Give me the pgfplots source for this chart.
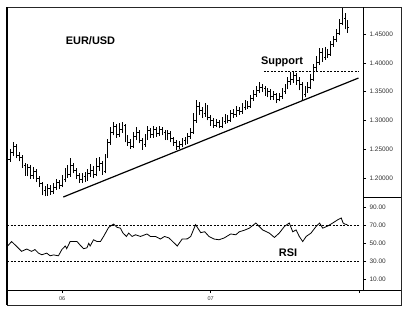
\documentclass[border=0pt]{standalone}
\usepackage{fontspec}
\setmainfont{Liberation Sans}
\usepackage{pgfplots}
\usepackage{pgfplotstable}
\pgfplotsset{compat=1.18}

\pgfplotstableread{
w o h l c
-19 1.225 1.240 1.219 1.232
-18 1.232 1.251 1.228 1.245
-17 1.245 1.262 1.238 1.255
-16 1.255 1.259 1.234 1.240
-15 1.240 1.246 1.229 1.236
-14 1.236 1.240 1.217 1.222
-13 1.222 1.226 1.204 1.210
-12 1.210 1.224 1.203 1.218
-11 1.218 1.222 1.198 1.205
-10 1.205 1.219 1.199 1.212
-9 1.212 1.216 1.193 1.200
-8 1.200 1.204 1.184 1.190
-7 1.190 1.193 1.170 1.178
-6 1.178 1.186 1.168 1.174
-5 1.174 1.189 1.169 1.182
-4 1.182 1.188 1.171 1.176
-3 1.176 1.192 1.173 1.184
-2 1.184 1.198 1.180 1.192
-1 1.192 1.196 1.181 1.188
0 1.188 1.205 1.184 1.198
1 1.198 1.218 1.193 1.212
2 1.212 1.222 1.200 1.206
3 1.206 1.235 1.202 1.222
4 1.222 1.226 1.208 1.214
5 1.214 1.218 1.198 1.204
6 1.204 1.208 1.191 1.197
7 1.197 1.208 1.192 1.202
8 1.202 1.210 1.193 1.198
9 1.198 1.216 1.195 1.208
10 1.208 1.224 1.202 1.214
11 1.214 1.220 1.200 1.206
12 1.206 1.234 1.203 1.220
13 1.220 1.236 1.212 1.226
14 1.226 1.230 1.206 1.212
15 1.212 1.242 1.208 1.238
16 1.238 1.268 1.234 1.262
17 1.262 1.288 1.258 1.280
18 1.280 1.297 1.274 1.290
19 1.290 1.294 1.270 1.276
20 1.276 1.295 1.272 1.285
21 1.285 1.298 1.279 1.292
22 1.292 1.294 1.262 1.268
23 1.268 1.274 1.256 1.262
24 1.262 1.268 1.250 1.255
25 1.255 1.280 1.252 1.272
26 1.272 1.288 1.266 1.280
27 1.280 1.284 1.260 1.265
28 1.265 1.270 1.249 1.258
29 1.258 1.277 1.254 1.270
30 1.270 1.290 1.266 1.282
31 1.282 1.287 1.270 1.275
32 1.275 1.291 1.270 1.284
33 1.284 1.289 1.272 1.278
34 1.278 1.290 1.273 1.285
35 1.285 1.289 1.274 1.280
36 1.280 1.284 1.266 1.272
37 1.272 1.283 1.266 1.277
38 1.277 1.281 1.262 1.268
39 1.268 1.272 1.256 1.262
40 1.262 1.266 1.249 1.255
41 1.255 1.264 1.250 1.258
42 1.258 1.270 1.253 1.266
43 1.266 1.272 1.257 1.262
44 1.262 1.278 1.259 1.272
45 1.272 1.286 1.268 1.280
46 1.280 1.313 1.277 1.300
47 1.300 1.335 1.296 1.325
48 1.325 1.332 1.310 1.318
49 1.318 1.324 1.305 1.312
50 1.312 1.330 1.306 1.322
51 1.322 1.326 1.300 1.305
52 1.305 1.310 1.290 1.300
53 1.300 1.304 1.287 1.292
54 1.292 1.302 1.288 1.296
55 1.296 1.300 1.286 1.290
56 1.290 1.306 1.287 1.298
57 1.298 1.312 1.294 1.305
58 1.305 1.309 1.295 1.300
59 1.300 1.318 1.298 1.312
60 1.312 1.320 1.304 1.310
61 1.310 1.325 1.306 1.318
62 1.318 1.324 1.310 1.316
63 1.316 1.330 1.312 1.322
64 1.322 1.336 1.318 1.328
65 1.328 1.334 1.320 1.325
66 1.325 1.344 1.322 1.338
67 1.338 1.352 1.334 1.345
68 1.345 1.360 1.341 1.352
69 1.352 1.367 1.348 1.358
70 1.358 1.364 1.349 1.355
71 1.355 1.360 1.343 1.348
72 1.348 1.357 1.340 1.350
73 1.350 1.354 1.336 1.342
74 1.342 1.351 1.336 1.345
75 1.345 1.348 1.330 1.336
76 1.336 1.348 1.333 1.342
77 1.342 1.357 1.338 1.350
78 1.350 1.364 1.346 1.358
79 1.358 1.376 1.354 1.368
80 1.368 1.384 1.362 1.372
81 1.372 1.385 1.365 1.378
82 1.378 1.383 1.362 1.370
83 1.370 1.375 1.352 1.362
84 1.362 1.366 1.335 1.345
85 1.345 1.360 1.340 1.352
86 1.352 1.366 1.348 1.358
87 1.358 1.380 1.355 1.372
88 1.372 1.398 1.368 1.392
89 1.392 1.412 1.385 1.400
90 1.400 1.426 1.396 1.418
91 1.418 1.425 1.402 1.410
92 1.410 1.428 1.405 1.420
93 1.420 1.424 1.408 1.415
94 1.415 1.438 1.412 1.432
95 1.432 1.447 1.428 1.440
96 1.440 1.458 1.436 1.452
97 1.452 1.476 1.448 1.468
98 1.468 1.495 1.465 1.478
99 1.478 1.486 1.458 1.470
100 1.470 1.474 1.452 1.462
}\ohlc

\pgfplotstableread{
w r
-19.2 46.5
-17.7 52
-15.9 46.5
-14.2 41
-12.4 43.6
-10.7 41
-9.5 43
-8.3 39
-7.1 37.2
-5.4 39
-4.2 36
-3.0 37
-1.3 36
-0.1 43
1.1 47
1.6 44
2.8 52
5.2 52
6.3 48
7.5 44
8.7 45
9.3 50
9.8 47
11.0 54
12.2 52
13.4 52
14.5 57.7
16.3 68
18.0 71.6
19.2 68
20.4 67
21.3 61.5
22.5 57.7
23.3 61.5
24.5 57.7
25.7 59.6
27.4 57.7
29.7 60.5
30.9 57.7
32.7 57.7
34.4 54.8
35.8 57.7
37.4 56
40.3 47
42.0 54.8
43.8 55
45.0 57.7
46.7 71
48.5 62
49.9 63
51.4 57.7
53.2 54.8
54.9 54
56.7 56
59.0 60.5
60.8 59.6
62.0 63
63.7 64.6
65.5 67
67.8 72.8
70.2 65
72.5 61.5
74.3 56.6
76.0 61.5
77.8 69
79.5 72.8
80.7 63
81.9 65
83.0 57.7
84.2 52
85.4 57.7
87.1 61.5
88.9 69
90.1 72.8
91.2 67
93.0 69.5
94.8 73
96.5 76.5
97.7 78.4
98.3 73
98.9 71.6
99.8 71
}\rsi

\begin{document}
\begin{tikzpicture}
\fill[white] (0bp,0bp) rectangle (409bp,-316bp);

\pgfplotsset{
  myax/.style={
    scale only axis, width=356bp,
    xmin=-19.3, xmax=105.3,
    axis line style={draw=none},
    tick align=outside, major tick length=3bp,
    every tick/.style={black, line width=0.6bp},
    ytick pos=right, yticklabel pos=right,
    /pgf/number format/assume math mode=true,
    ticklabel style={font=\fontsize{6.5}{7}\selectfont, text=black!80},
  }
}

\begin{axis}[myax, at={(7bp,-197bp)}, anchor=south west, height=190bp,
  ymin=1.167, ymax=1.497, xtick=\empty,
  ytick={1.2,1.25,1.3,1.35,1.4,1.45},
  yticklabel style={/pgf/number format/.cd, fixed, fixed zerofill, precision=5}]
\addplot[black, line width=0.8bp, quiver={u=0, v={\thisrow{h}-\thisrow{l}}}] table[x=w, y=l] {\ohlc};
\addplot[black, line width=0.8bp, quiver={u=-0.45, v=0}] table[x=w, y=o] {\ohlc};
\addplot[black, line width=0.8bp, quiver={u=0.45, v=0}] table[x=w, y=c] {\ohlc};
\addplot[black, line width=1.2bp] coordinates {(0.4,1.167) (103.7,1.3736)};
\addplot[black, line width=0.8bp, dash pattern=on 2bp off 1.5bp] coordinates {(70.6,1.386) (104,1.386)};
\end{axis}

\begin{axis}[myax, at={(7bp,-290bp)}, anchor=south west, height=93bp,
  ymin=-2.4, ymax=102,
  ytick={10,30,50,70,90},
  yticklabel style={/pgf/number format/.cd, fixed, fixed zerofill, precision=2},
  xtick={0,52,104}, xticklabels={06,07,{}},
  xtick pos=bottom, xticklabel pos=bottom,
  xticklabel style={font=\fontsize{5.5}{6}\selectfont}]
\addplot[black, line width=0.8bp, dash pattern=on 2bp off 1.5bp] coordinates {(-19.3,70) (104,70)};
\addplot[black, line width=0.8bp, dash pattern=on 2bp off 1.5bp] coordinates {(-19.3,30) (104,30)};
\addplot[black, line width=0.8bp] table[x=w, y=r] {\rsi};
\end{axis}

% frame
\draw[black!85, line width=0.9bp] (7bp,-7bp) -- (401bp,-7bp) -- (401bp,-305bp) -- (7bp,-305bp);
\draw[black, line width=1.6bp] (7bp,-7bp) -- (7bp,-305bp);
\draw[black, line width=0.9bp] (363bp,-7bp) -- (363bp,-290bp);
\draw[black, line width=0.9bp] (7bp,-290bp) -- (401bp,-290bp);
\draw[black, line width=0.9bp] (363bp,-197bp) -- (401bp,-197bp);

\node[font=\bfseries\fontsize{11}{13}\selectfont] at (90.5bp,-41bp) {EUR/USD};
\node[font=\bfseries\fontsize{11}{13}\selectfont] at (282bp,-62bp) {Support};
\node[font=\bfseries\fontsize{11}{13}\selectfont] at (288bp,-253bp) {RSI};
\end{tikzpicture}
\end{document}
